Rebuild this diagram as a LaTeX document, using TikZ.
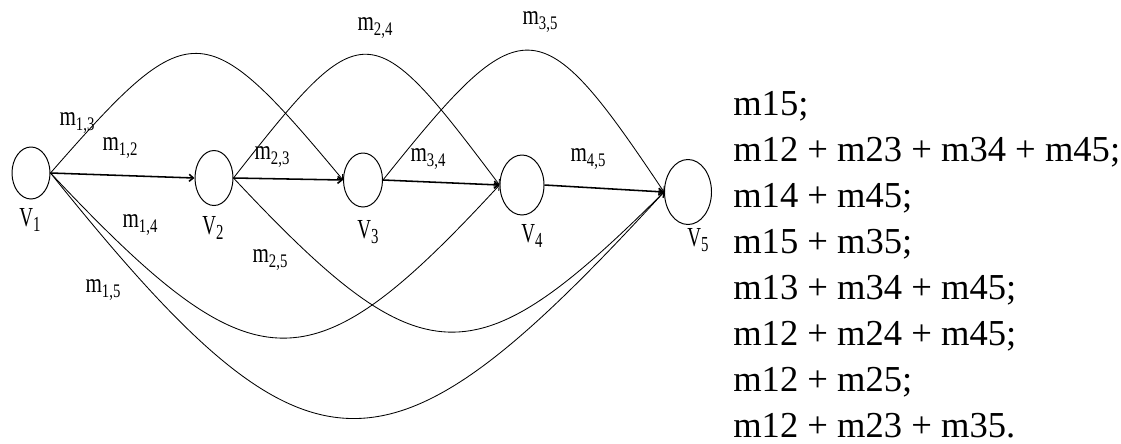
\documentclass[tikz,border=0pt]{standalone}
\usepackage{fontspec}
\setmainfont{Liberation Serif}
\usetikzlibrary{shapes.geometric, arrows.meta}

\newcommand{\lowsub}[1]{\raisebox{-0.35ex}{\fontsize{10.5}{10.5}\selectfont #1}}
\newcommand{\mlab}[1]{\scalebox{1}[1.3]{m\lowsub{#1}}}
\newcommand{\vlab}[1]{\scalebox{1}[1.45]{V\lowsub{#1}}}

\tikzset{
  vertex/.style={draw, ellipse, inner sep=0pt, line width=0.7pt},
  edge/.style={line width=0.6pt, -{Straight Barb[length=3pt,width=5pt]}},
  straightedge/.style={edge, line width=1.1pt},
  elabel/.style={font=\fontsize{15}{15}\selectfont, inner sep=0pt},
  vlabel/.style={font=\fontsize{13.5}{13.5}\selectfont, inner sep=0pt},
  pathline/.style={font=\fontsize{26}{26}\selectfont, anchor=base west, inner sep=0pt}
}

\begin{document}
\begin{tikzpicture}[x=0.025cm, y=-0.025cm]
    \useasboundingbox (0,0) rectangle (1121,443);

    % Vertices
    \foreach \n/\x/\y/\w/\h/\lx/\ly in {
        1/31/173/0.95/1.3/30/220,
        2/214/178/0.95/1.375/213/228,
        3/363/180/0.975/1.35/368/232,
        4/522/185/1.1/1.5/532/236,
        5/688/192/1.175/1.625/698/240
    } {
        \node[vertex, minimum width=\w cm, minimum height=\h cm] (v\n) at (\x,\y) {};
        \node[vlabel] (lv\n) at (\lx,\ly) {\vlab{\n}};
    }

    % Straight edges
    \draw[straightedge] (v1.east) -- (v2.west);
    \draw[straightedge] (v2.east) -- (v3.west);
    \draw[straightedge] (v3.east) -- (v4.west);
    \draw[straightedge] (v4.east) -- (v5.west);

    % Upper arches
    \draw[edge] (v1.east) .. controls +(140,-160) and +(-140,-168) .. (v3.west);
    \draw[edge] (v2.east) .. controls +(130,-166) and +(-130,-173) .. (v4.west);
    \draw[edge] (v3.east) .. controls +(140,-175) and +(-125,-187) .. (v5.west);

    % Lower arches
    \draw[edge] (v1.east) .. controls +(205,218) and +(-190,206) .. (v4.west);
    \draw[edge] (v1.east) .. controls +(260,324) and +(-280,305) .. (v5.west);
    \draw[edge] (v2.east) .. controls +(190,203) and +(-190,189) .. (v5.west);

    % Edge labels
    \foreach \name/\x/\y in {
        13/77/123, 12/120/148, 23/272/157, 34/428/159, 45/588/159,
        24/375/28, 35/540/22, 14/140/225, 25/270/260, 15/103/290
    } {
        \pgfmathtruncatemacro{\a}{\name/10}
        \pgfmathtruncatemacro{\b}{mod(\name,10)}
        \node[elabel] (m\name) at (\x,\y) {\mlab{\a,\b}};
    }

    % Paths from V1 to V5
    \foreach \i/\txt in {
        0/{m15;},
        1/{m12 + m23 + m34 + m45;},
        2/{m14 + m45;},
        3/{m15 + m35;},
        4/{m13 + m34 + m45;},
        5/{m12 + m24 + m45;},
        6/{m12 + m25;},
        7/{m12 + m23 + m35.}
    } {
        \node[pathline] (p\i) at (733,115+46*\i) {\txt};
    }
\end{tikzpicture}
\end{document}
